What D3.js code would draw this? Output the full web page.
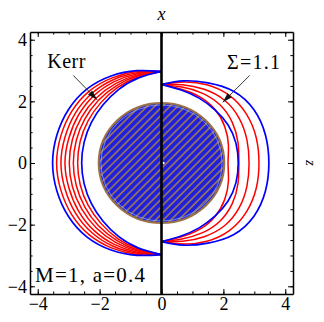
<!DOCTYPE html>
<html>
<head>
<meta charset="utf-8">
<script src="https://cdn.jsdelivr.net/npm/d3@7"></script>
<style>
  body { margin: 0; background: #fff; }
  text { font-family: "Liberation Serif", "Times New Roman", serif; }
</style>
</head>
<body>
<svg width="324" height="322"></svg>
<script>
// polar angle from the +z axis (degrees), shared by every curve
const angles = [0, 15, 30, 45, 60, 75, 90, 105, 120, 135, 150, 165, 180];

// Kerr region (drawn on the x < 0 side), radii
const kerrOuter = [2.97, 3.10, 3.26, 3.40, 3.47, 3.50, 3.52, 3.50, 3.47, 3.40, 3.26, 3.10, 2.97];
const kerrInner = [2.97, 2.86, 2.76, 2.67, 2.62, 2.59, 2.58, 2.59, 2.62, 2.67, 2.76, 2.86, 2.97];
const kerrRed1 = [2.97, 2.89, 2.83, 2.77, 2.74, 2.72, 2.71, 2.72, 2.74, 2.77, 2.83, 2.89, 2.97];
const kerrRed2 = [2.97, 2.93, 2.90, 2.88, 2.86, 2.85, 2.85, 2.85, 2.86, 2.88, 2.90, 2.93, 2.97];
const kerrRed3 = [2.97, 2.96, 2.97, 2.98, 2.98, 2.98, 2.98, 2.98, 2.98, 2.98, 2.97, 2.96, 2.97];
const kerrRed4 = [2.97, 3.00, 3.05, 3.09, 3.10, 3.10, 3.12, 3.10, 3.10, 3.09, 3.05, 3.00, 2.97];
const kerrRed5 = [2.97, 3.03, 3.12, 3.19, 3.22, 3.23, 3.25, 3.23, 3.22, 3.19, 3.12, 3.03, 2.97];
const kerrRed6 = [2.97, 3.07, 3.19, 3.30, 3.35, 3.37, 3.39, 3.37, 3.35, 3.30, 3.19, 3.07, 2.97];

// Sigma = 1.1 region (drawn on the x > 0 side)
const sigOuter = [2.55, 2.76, 3.00, 3.29, 3.45, 3.48, 3.47, 3.48, 3.45, 3.29, 3.00, 2.76, 2.55];
const sigInner = [2.55, 2.45, 2.43, 2.44, 2.48, 2.49, 2.48, 2.49, 2.48, 2.44, 2.43, 2.45, 2.55];
const sigRed1 = [2.55, 2.72, 2.93, 3.10, 3.17, 3.17, 3.15, 3.17, 3.17, 3.10, 2.93, 2.72, 2.55];
const sigRed2 = [2.55, 2.63, 2.76, 2.88, 2.90, 2.86, 2.83, 2.86, 2.90, 2.88, 2.76, 2.63, 2.55];
const sigRed3 = [2.55, 2.55, 2.62, 2.67, 2.64, 2.56, 2.50, 2.56, 2.64, 2.67, 2.62, 2.55, 2.55];
const sigRed4 = [2.55, 2.48, 2.48, 2.45, 2.36, 2.24, 2.15, 2.24, 2.36, 2.45, 2.48, 2.48, 2.55];

// horizon disk (semi-axes)
const diskRx = 2.03;
const diskRy = 1.95;

const majorTicks = [-4, -2, 0, 2, 4];
const minorTicks = [-4, -3.5, -3, -2.5, -2, -1.5, -1, -0.5, 0, 0.5, 1, 1.5, 2, 2.5, 3, 3.5, 4];

// labels [text, x, z, width in px] and arrows [x0, z0, x1, z1]
const labels = [["Kerr", -3.69, 3.08, 38], ["Σ=1.1", 2.12, 3.05, 53]];
const arrows = [[-2.85, 2.84, -2.08, 2.05], [2.85, 2.84, 1.98, 1.97]];

const svg = d3.select('svg');
const margin = {top: 32, right: 31, bottom: 28, left: 30};
const width = +svg.attr('width') - margin.left - margin.right;
const height = +svg.attr('height') - margin.top - margin.bottom;

const x = d3.scaleLinear().domain([-4.25, 4.25]).range([margin.left, margin.left + width]);
const y = d3.scaleLinear().domain([-4.25, 4.25]).range([margin.top + height, margin.top]);

const defs = svg.append('defs');
defs.append('clipPath').attr('id', 'frame')
  .append('rect')
    .attr('x', margin.left).attr('y', margin.top)
    .attr('width', width).attr('height', height);

const hatch = defs.append('pattern')
  .attr('id', 'hatch')
  .attr('patternUnits', 'userSpaceOnUse')
  .attr('width', 5.4).attr('height', 5.4)
  .attr('patternTransform', 'rotate(45)');
hatch.append('rect').attr('width', 5.4).attr('height', 5.4).attr('fill', '#2020dc');
hatch.append('line')
  .attr('x1', 1).attr('y1', 0).attr('x2', 1).attr('y2', 5.4)
  .attr('stroke', '#a27d50').attr('stroke-width', 1.5);

defs.append('marker')
  .attr('id', 'head')
  .attr('markerUnits', 'userSpaceOnUse')
  .attr('viewBox', '0 0 10 6')
  .attr('refX', 10).attr('refY', 3)
  .attr('markerWidth', 10).attr('markerHeight', 6)
  .attr('orient', 'auto')
  .append('path')
    .attr('d', 'M0,0L10,3L0,6Z')
    .attr('fill', '#111');

const plot = svg.append('g').attr('clip-path', 'url(#frame)');

// disk
plot.append('ellipse')
  .attr('cx', x(0)).attr('cy', y(0))
  .attr('rx', x(diskRx) - x(0)).attr('ry', y(0) - y(diskRy))
  .attr('fill', 'url(#hatch)')
  .attr('stroke', '#9b7348').attr('stroke-width', 2);
plot.append('ellipse')
  .attr('cx', x(0)).attr('cy', y(0))
  .attr('rx', x(diskRx) - x(0) - 2.2).attr('ry', y(0) - y(diskRy) - 2)
  .attr('fill', 'none')
  .attr('stroke', '#9fc0f0').attr('stroke-width', 0.8).attr('stroke-opacity', 0.8);
plot.append('circle')
  .attr('cx', x(0.06)).attr('cy', y(0))
  .attr('r', 1.3).attr('fill', '#fff');

const line = d3.line()
  .x(d => x(d[0]))
  .y(d => y(d[1]))
  .curve(d3.curveNatural);

function toXY(radii, side) {
  return angles.map((a, i) => {
    const t = a * Math.PI / 180;
    return [side * radii[i] * Math.sin(t), radii[i] * Math.cos(t)];
  });
}

const curves = [
  {r: kerrRed1, side: -1, color: '#ff0000'},
  {r: kerrRed2, side: -1, color: '#ff0000'},
  {r: kerrRed3, side: -1, color: '#ff0000'},
  {r: kerrRed4, side: -1, color: '#ff0000'},
  {r: kerrRed5, side: -1, color: '#ff0000'},
  {r: kerrRed6, side: -1, color: '#ff0000'},
  {r: sigRed1, side: 1, color: '#ff0000'},
  {r: sigRed2, side: 1, color: '#ff0000'},
  {r: sigRed3, side: 1, color: '#ff0000'},
  {r: sigRed4, side: 1, color: '#ff0000'},
  {r: kerrOuter, side: -1, color: '#0000ff'},
  {r: kerrInner, side: -1, color: '#0000ff'},
  {r: sigOuter, side: 1, color: '#0000ff'},
  {r: sigInner, side: 1, color: '#0000ff'}
];

plot.selectAll('.curve')
  .data(curves)
  .enter().append('path')
    .attr('class', 'curve')
    .attr('d', d => line(toXY(d.r, d.side)))
    .attr('fill', 'none')
    .attr('stroke', d => d.color)
    .attr('stroke-width', d => d.color === '#0000ff' ? 1.7 : 1.5);

// z axis line
plot.append('line')
  .attr('x1', x(0)).attr('x2', x(0))
  .attr('y1', margin.top).attr('y2', margin.top + height)
  .attr('stroke', '#000').attr('stroke-width', 2.6);

// annotations
plot.selectAll('.arrow')
  .data(arrows)
  .enter().append('line')
    .attr('class', 'arrow')
    .attr('x1', d => x(d[0])).attr('y1', d => y(d[1]))
    .attr('x2', d => x(d[2])).attr('y2', d => y(d[3]))
    .attr('stroke', '#222').attr('stroke-width', 0.9)
    .attr('marker-end', 'url(#head)');

svg.selectAll('.label')
  .data(labels)
  .enter().append('text')
    .attr('class', 'label')
    .attr('x', d => x(d[1])).attr('y', d => y(d[2]))
    .attr('font-size', 20)
    .attr('textLength', d => d[3])
    .attr('lengthAdjust', 'spacing')
    .text(d => d[0]);

svg.append('text')
  .attr('x', 35).attr('y', 282)
  .attr('font-size', 21)
  .attr('textLength', 110)
  .attr('lengthAdjust', 'spacing')
  .text('M=1, a=0.4');

// frame and ticks
const axes = [
  {a: d3.axisBottom(x), t: [0, margin.top + height], lab: true},
  {a: d3.axisTop(x), t: [0, margin.top], lab: false},
  {a: d3.axisLeft(y), t: [margin.left, 0], lab: true},
  {a: d3.axisRight(y), t: [margin.left + width, 0], lab: false}
];

axes.forEach(ax => {
  const g = svg.append('g')
    .attr('transform', `translate(${ax.t[0]},${ax.t[1]})`)
    .call(ax.a.tickValues(majorTicks).tickSize(-5).tickSizeOuter(0).tickPadding(3)
      .tickFormat(ax.lab ? d3.format('') : ''));
  g.select('.domain').attr('stroke', '#000').attr('stroke-width', 1.5);
  g.selectAll('text')
    .attr('font-size', 18)
    .attr('fill', '#000')
    .style('font-family', '"Liberation Serif", serif');
  const gm = svg.append('g')
    .attr('transform', `translate(${ax.t[0]},${ax.t[1]})`)
    .call(ax.a.tickValues(minorTicks).tickSize(-2.6).tickSizeOuter(0).tickFormat(''));
  gm.select('.domain').remove();
});

svg.append('text')
  .attr('x', x(0)).attr('y', 20)
  .attr('text-anchor', 'middle')
  .attr('font-size', 18)
  .attr('font-style', 'italic')
  .text('x');

svg.append('text')
  .attr('transform', `translate(306,${y(0)}) rotate(90)`)
  .attr('text-anchor', 'middle')
  .attr('font-size', 15)
  .attr('font-style', 'italic')
  .text('z');
</script>
</body>
</html>
